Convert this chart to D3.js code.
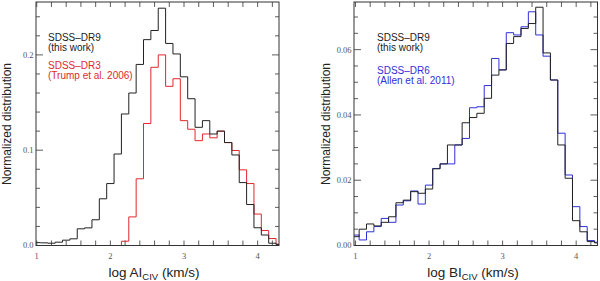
<!DOCTYPE html>
<html>
<head>
<meta charset="utf-8">
<script src="https://cdn.jsdelivr.net/npm/d3@7"></script>
<style>
  body { margin: 0; background: #fff; }
  svg { display: block; }
</style>
</head>
<body>
<div class="chart"></div>
<script>
// bin centres (log km/s), bins are 0.1 wide
var bins = [1.0, 1.1, 1.2, 1.3, 1.4, 1.5, 1.6, 1.7, 1.8, 1.9,
            2.0, 2.1, 2.2, 2.3, 2.4, 2.5, 2.6, 2.7, 2.8, 2.9,
            3.0, 3.1, 3.2, 3.3, 3.4, 3.5, 3.6, 3.7, 3.8, 3.9,
            4.0, 4.1, 4.2, 4.3]

// left panel: AI
var aiDR9 = [0.003, 0.0028, 0.0024, 0.0035, 0.0056, 0.007, 0.0175, 0.0185, 0.027, 0.049,
             0.065, 0.096, 0.138, 0.160, 0.190, 0.216, 0.2256, 0.249, 0.212, 0.201,
             0.177, 0.154, 0.124, 0.131, 0.117, 0.120, 0.108, 0.095, 0.066, 0.043,
             0.0186, 0.011, 0.0024, 0.001]
var aiDR3 = [null, null, null, null, null, null, null, null, null, null,
             null, 0, 0.0045, 0.030, 0.070, 0.128, 0.187, 0.200, 0.167, 0.175,
             0.131, 0.122, 0.110, 0.117, 0.113, 0.120, 0.108, 0.0997, 0.0794, 0.065,
             0.033, 0.0157, 0.0073, 0.0014]

// right panel: BI
var biDR9 = [0.0027, 0.0050, 0.0066, 0.0060, 0.0071, 0.0088, 0.0131, 0.0139, 0.0165, 0.0160,
             0.0173, 0.0235, 0.0250, 0.0308, 0.0308, 0.0376, 0.0392, 0.0405, 0.0451, 0.0522,
             0.0538, 0.0619, 0.0640, 0.0665, 0.0680, 0.0730, 0.0590, 0.0507, 0.0308, 0.0206,
             0.0076, 0.0042, 0.0012, 0.0008]
var biDR6 = [0.0032, 0.0017, 0.0042, 0.0058, 0.0083, 0.0071, 0.0124, 0.0137, 0.0167, 0.0127,
             0.0185, 0.0236, 0.0250, 0.0250, 0.0308, 0.0328, 0.0422, 0.0425, 0.0490, 0.0573,
             0.0538, 0.0652, 0.0645, 0.0670, 0.0716, 0.0645, 0.0580, 0.0507, 0.0344, 0.0216,
             0.0119, 0.0058, 0.0015, 0.0010]

var xTickLabels = [1, 2, 3, 4]
var aiYTicks = [0.0, 0.1, 0.2]
var biYTicks = [0.00, 0.02, 0.04, 0.06]

var svg = d3.select('.chart')
  .append('svg')
    .attr('width', 600)
    .attr('height', 281)

function panel(opt) {
  var g = svg.append('g')
  var x = d3.scaleLinear().domain(opt.xDomain).range([opt.left, opt.right])
  var y = d3.scaleLinear().domain([0, opt.yMax]).range([245.5, 2])

  var clipId = 'clip' + opt.id
  svg.append('clipPath').attr('id', clipId)
    .append('rect')
      .attr('x', opt.left).attr('y', 2)
      .attr('width', opt.right - opt.left).attr('height', 243.5)

  // histogram step lines
  opt.series.forEach(function (s) {
    var pts = []
    bins.forEach(function (c, i) {
      if (s.values[i] == null) return
      pts.push([c - 0.05, s.values[i]])
    })
    var last = pts[pts.length - 1]
    pts.push([last[0] + 0.1, last[1]])
    g.append('path')
      .attr('clip-path', 'url(#' + clipId + ')')
      .attr('d', d3.line().x(d => x(d[0])).y(d => y(d[1])).curve(d3.curveStepAfter)(pts))
      .attr('fill', 'none')
      .attr('stroke', s.color)
      .attr('stroke-width', 1)
  })

  // frame
  g.append('rect')
    .attr('x', opt.left).attr('y', 2)
    .attr('width', opt.right - opt.left).attr('height', 243.5)
    .attr('fill', 'none').attr('stroke', '#333').attr('stroke-width', 1)

  // inward ticks: x every 0.2, on top and bottom
  var xt = d3.range(1, 4.3, 0.2)
  var yMinor = d3.range(0, opt.yMax, opt.yMinor)
  var tk = g.append('g').attr('stroke', '#333').attr('stroke-width', 0.8)
  xt.forEach(function (v) {
    tk.append('line').attr('x1', x(v)).attr('x2', x(v)).attr('y1', 245.5).attr('y2', 240.5)
    tk.append('line').attr('x1', x(v)).attr('x2', x(v)).attr('y1', 2).attr('y2', 7)
  })
  yMinor.forEach(function (v) {
    var major = opt.yTicks.some(t => Math.abs(t - v) < 1e-9)
    var len = major ? 7 : 4
    tk.append('line').attr('x1', opt.left).attr('x2', opt.left + len).attr('y1', y(v)).attr('y2', y(v))
    tk.append('line').attr('x1', opt.right).attr('x2', opt.right - len).attr('y1', y(v)).attr('y2', y(v))
  })

  // tick labels
  g.selectAll('.xl').data(xTickLabels).enter().append('text')
    .attr('x', d => x(d)).attr('y', 258.5)
    .attr('text-anchor', 'middle')
    .attr('font-family', 'Liberation Serif, serif').attr('font-size', 8.5).attr('fill', '#555')
    .text(d => d)
  g.selectAll('.yl').data(opt.yTicks).enter().append('text')
    .attr('x', opt.left - 2.5).attr('y', d => y(d)).attr('dy', '0.35em')
    .attr('text-anchor', 'end')
    .attr('font-family', 'Liberation Serif, serif').attr('font-size', 8.5).attr('fill', '#555')
    .text(d => d3.format(opt.yFmt)(d))

  // axis titles
  var xt1 = g.append('text')
    .attr('x', opt.xTitleX).attr('y', 277)
    .attr('text-anchor', 'middle')
    .attr('font-family', 'Liberation Sans, Arial, sans-serif').attr('font-size', 13.5).attr('fill', '#222')
  xt1.append('tspan').text('log ' + opt.xName)
  xt1.append('tspan').attr('font-size', 9.5).attr('dy', 2.5).text('CIV')
  xt1.append('tspan').attr('dy', -2.5).text(' (km/s)')

  g.append('text')
    .attr('transform', 'translate(' + opt.yTitleX + ',124) rotate(-90)')
    .attr('text-anchor', 'middle')
    .attr('font-family', 'Liberation Sans, Arial, sans-serif').attr('font-size', 12).attr('fill', '#222')
    .text('Normalized distribution')

  // legend text
  opt.legend.forEach(function (l) {
    g.append('text')
      .attr('x', opt.legendX).attr('y', l.y)
      .attr('font-family', 'Liberation Sans, Arial, sans-serif').attr('font-size', 10)
      .attr('fill', l.color)
      .text(l.text)
  })
}

panel({
  id: 'a', left: 36, right: 279, xDomain: [0.99, 4.29], yMax: 0.2555,
  yTicks: aiYTicks, yMinor: 0.02, yFmt: '.1f', xName: 'AI', yTitleX: 11, legendX: 48, xTitleX: 154,
  series: [
    { values: aiDR3, color: '#e0282e' },
    { values: aiDR9, color: '#222' }
  ],
  legend: [
    { text: 'SDSS\u2013DR9', y: 40.5, color: '#222' },
    { text: '(this work)', y: 50.5, color: '#222' },
    { text: 'SDSS\u2013DR3', y: 68.5, color: '#e0282e' },
    { text: '(Trump et al. 2006)', y: 78.5, color: '#e0282e' }
  ]
})

panel({
  id: 'b', left: 354, right: 597.5, xDomain: [0.98, 4.29], yMax: 0.0746,
  yTicks: biYTicks, yMinor: 0.005, yFmt: '.2f', xName: 'BI', yTitleX: 330, legendX: 377, xTitleX: 473,
  series: [
    { values: biDR6, color: '#3030d8' },
    { values: biDR9, color: '#222' }
  ],
  legend: [
    { text: 'SDSS\u2013DR9', y: 40.5, color: '#222' },
    { text: '(this work)', y: 50.5, color: '#222' },
    { text: 'SDSS\u2013DR6', y: 73.5, color: '#3030d8' },
    { text: '(Allen et al. 2011)', y: 83.5, color: '#3030d8' }
  ]
})
</script>
</body>
</html>
